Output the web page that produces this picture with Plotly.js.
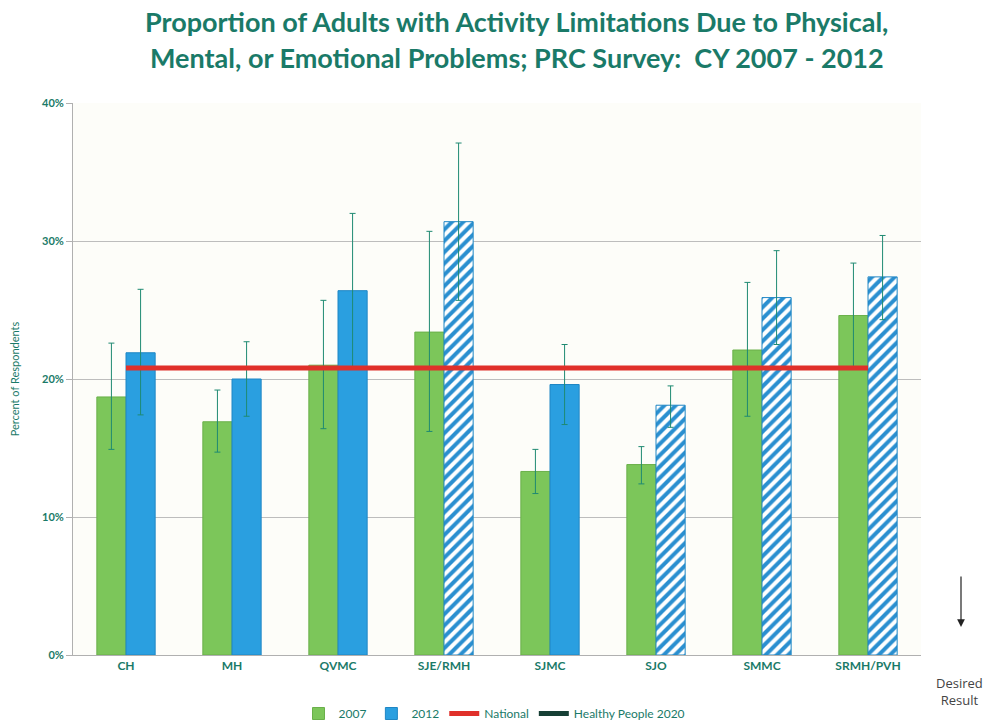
<!DOCTYPE html>
<html>
<head>
<meta charset="utf-8">
<script src="https://cdn.plot.ly/plotly-3.0.1.min.js"></script>
<style>html,body{margin:0;padding:0;background:#fff;}#chart{width:989px;height:728px;}</style>
</head>
<body>
<div id="chart"></div>
<script>
const categories = ["CH", "MH", "QVMC", "SJE/RMH", "SJMC", "SJO", "SMMC", "SRMH/PVH"];
const values2007 = [18.7, 16.9, 21.0, 23.4, 13.3, 13.8, 22.1, 24.6];
const upper2007 = [22.6, 19.2, 25.7, 30.7, 14.9, 15.1, 27.0, 28.4];
const lower2007 = [14.9, 14.7, 16.4, 16.2, 11.7, 12.4, 17.3, 20.7];
const values2012 = [21.9, 20.0, 26.4, 31.4, 19.6, 18.1, 25.9, 27.4];
const upper2012 = [26.5, 22.7, 32.0, 37.1, 22.5, 19.5, 29.3, 30.4];
const lower2012 = [17.4, 17.3, 20.8, 25.7, 16.7, 16.5, 22.5, 24.3];
const hatch2012 = ["", "", "", "/", "", "/", "/", "/"];
const national = [20.8, 20.8, 20.8, 20.8, 20.8, 20.8, 20.8, 20.8];
const healthyPeople = [null, null, null, null, null, null, null, null];
const yTicks = [0, 10, 20, 30, 40];
const yTickLabels = ["0%", "10%", "20%", "30%", "40%"];
const titleLines = [
  "Proportion of Adults with Activity Limitations Due to Physical,",
  "Mental, or Emotional Problems; PRC Survey:  CY 2007 - 2012"
];

const teal = "#1a7a68";
const errColor = "#1f8a72";
const fam = "Lato, 'Open Sans', sans-serif";

const diff = (a, b) => a.map((v, i) => +(v - b[i]).toFixed(2));

const traces = [
  {
    type: "bar", name: "2007", x: categories, y: values2007,
    marker: {color: "#7cc65a", line: {color: "#6ab04a", width: 1}},
    error_y: {type: "data", symmetric: false, array: diff(upper2007, values2007), arrayminus: diff(values2007, lower2007), color: errColor, thickness: 1, width: 3}
  },
  {
    type: "bar", name: "2012", x: categories, y: values2012,
    marker: {color: "#2a9fe0", line: {color: "#1f86c4", width: 1},
      pattern: {shape: hatch2012, fgcolor: "#2a8fd0", bgcolor: "#ffffff", fillmode: "replace", size: 8, solidity: 0.5}},
    error_y: {type: "data", symmetric: false, array: diff(upper2012, values2012), arrayminus: diff(values2012, lower2012), color: errColor, thickness: 1, width: 3}
  },
  {
    type: "scatter", mode: "lines", name: "National", x: categories, y: national,
    line: {color: "#e0302a", width: 5}
  },
  {
    type: "scatter", mode: "lines", name: "Healthy People 2020", x: categories, y: healthyPeople,
    line: {color: "#163f35", width: 5}
  }
];

const layout = {
  width: 989, height: 728,
  paper_bgcolor: "#ffffff", plot_bgcolor: "#fdfdf9",
  margin: {l: 73, r: 68, t: 103, b: 73},
  barmode: "group", bargap: 0.45, bargroupgap: 0,
  xaxis: {
    type: "category", showgrid: false, showline: true, linecolor: "#b0b0b0", linewidth: 1,
    ticks: "", tickfont: {family: fam, size: 12, color: teal, weight: "bold"}
  },
  yaxis: {
    range: [0, 40], tickvals: yTicks, ticktext: yTickLabels,
    showgrid: true, gridcolor: "#bdbdbd", gridwidth: 1,
    showline: true, linecolor: "#b0b0b0", linewidth: 1, zeroline: false,
    ticks: "outside", ticklen: 6, tickcolor: "#b0b0b0",
    tickfont: {family: fam, size: 11, color: teal, weight: "bold"},
    title: {text: "Percent of Respondents", font: {family: fam, size: 11, color: teal}, standoff: 20}
  },
  showlegend: true,
  legend: {
    orientation: "h", xref: "container", yref: "container", x: 0.5, xanchor: "center", y: 0.0, yanchor: "bottom",
    font: {family: fam, size: 12, color: teal},
    itemwidth: 30, tracegroupgap: 0
  },
  annotations: [
    {xref: "paper", yref: "paper", x: 0.523, y: (655 - 21) / 552, xanchor: "center", yanchor: "middle",
     text: "<b>" + titleLines[0] + "</b>", showarrow: false,
     font: {family: fam, size: 27, color: teal}},
    {xref: "paper", yref: "paper", x: 0.523, y: (655 - 58) / 552, xanchor: "center", yanchor: "middle",
     text: "<b>" + titleLines[1] + "</b>", showarrow: false,
     font: {family: fam, size: 27, color: teal}},
    {xref: "paper", yref: "paper", x: (960 - 73) / 848, y: -0.03, xanchor: "center", yanchor: "top",
     text: "Desired<br>Result", showarrow: false, align: "center",
     font: {family: "'Open Sans', sans-serif", size: 13, color: "#444"}},
    {xref: "paper", yref: "paper", x: (961 - 73) / 848, y: (655 - 627) / 552, ax: 0, ay: -52,
     text: "", showarrow: true, arrowhead: 2, arrowsize: 1.3, arrowwidth: 1.2, arrowcolor: "#222"}
  ]
};

Plotly.newPlot("chart", traces, layout, {displayModeBar: false, staticPlot: true});
</script>
</body>
</html>
